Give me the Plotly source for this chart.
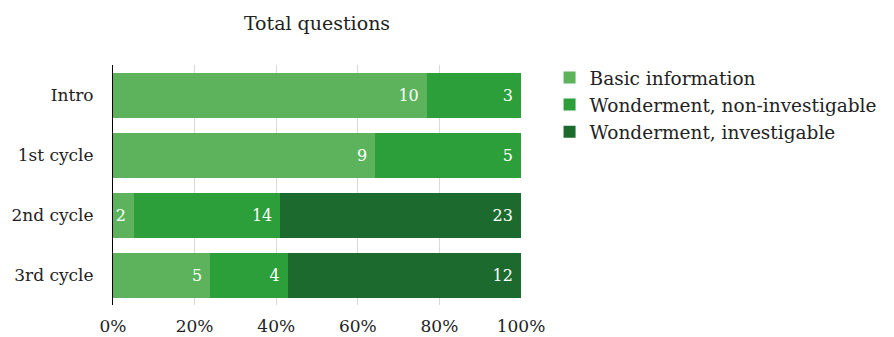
import plotly.graph_objects as go

categories = ["Intro", "1st cycle", "2nd cycle", "3rd cycle"]
series_names = ["Basic information", "Wonderment, non-investigable", "Wonderment, investigable"]
basic = [10, 9, 2, 5]
non_inv = [3, 5, 14, 4]
inv = [0, 0, 23, 12]
colors = ["#5cb35c", "#2c9e3a", "#1c6a2e"]
x_ticks = [0, 0.2, 0.4, 0.6, 0.8, 1.0]

totals = [a + b + c for a, b, c in zip(basic, non_inv, inv)]
font_family = "DejaVu Serif"

fig = go.Figure()
for name, vals, col in zip(series_names, [basic, non_inv, inv], colors):
    fig.add_trace(go.Bar(
        y=categories,
        x=[v / t for v, t in zip(vals, totals)],
        orientation="h",
        name=name,
        marker=dict(color=col, line=dict(width=0)),
        text=[(str(v) + "\u00a0") if v > 0 else "" for v in vals],
        textposition="inside",
        insidetextanchor="end",
        constraintext="none",
        textfont=dict(color="white", size=16, family=font_family),
        hoverinfo="skip",
    ))

fig.update_layout(
    barmode="stack",
    bargap=0.25,
    width=894, height=337,
    margin=dict(l=113, r=373, t=65, b=32, autoexpand=False),
    paper_bgcolor="white",
    plot_bgcolor="white",
    font=dict(family=font_family, size=16, color="#222"),
    title=dict(text="Total questions", x=0.5, xref="paper", xanchor="center",
               y=0.93, yref="container", yanchor="middle",
               font=dict(size=19, family=font_family, color="#222")),
    legend=dict(x=1.07, xref="paper", xanchor="left", y=1.025, yanchor="top",
                font=dict(size=18.5, family=font_family, color="#222"),
                traceorder="normal", itemwidth=30, tracegroupgap=0,
                bgcolor="rgba(0,0,0,0)"),
    showlegend=True,
)
fig.update_xaxes(range=[0, 1], tickvals=x_ticks, tickformat=".0%",
                 showgrid=True, gridcolor="#d9d9d9", gridwidth=1,
                 zeroline=False, showline=False, ticks="", automargin=False,
                 ticklabelstandoff=9,
                 tickfont=dict(size=17, family=font_family, color="#222"))
fig.update_yaxes(autorange="reversed", showline=True, linecolor="black", linewidth=1,
                 ticks="", showgrid=False, ticklabelstandoff=15, automargin=False,
                 tickfont=dict(size=17, family=font_family, color="#222"))

fig.write_html("out.html")
